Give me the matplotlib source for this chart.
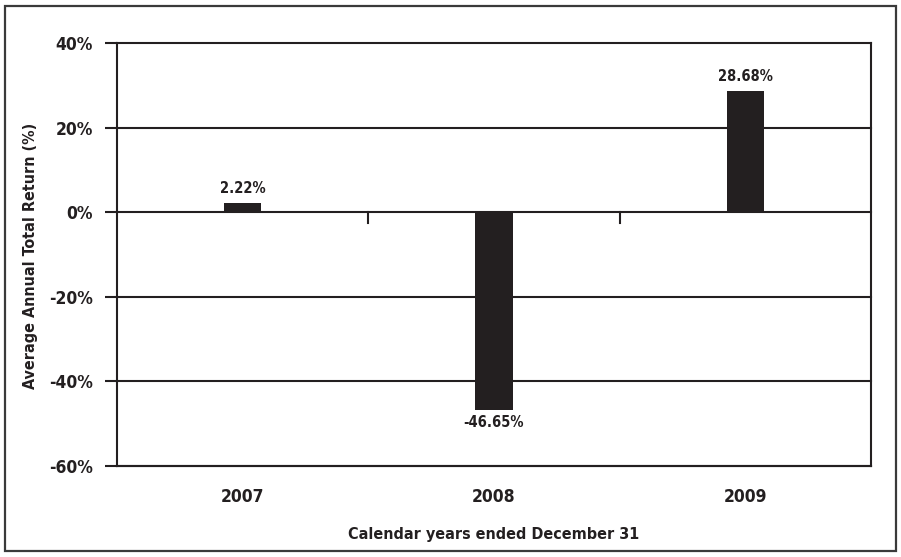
import matplotlib
matplotlib.use("Agg")
import matplotlib.pyplot as plt
from matplotlib.patches import Rectangle

years = ["2007", "2008", "2009"]
returns = [2.22, -46.65, 28.68]
value_labels = ["2.22%", "-46.65%", "28.68%"]
y_ticks = [40, 20, 0, -20, -40, -60]
y_tick_labels = ["40%", "20%", "0%", "-20%", "-40%", "-60%"]

ink = "#231f20"
plt.rcParams["font.family"] = ["DejaVu Sans"]
plt.rcParams["font.stretch"] = "condensed"
plt.rcParams["font.weight"] = "bold"

W, H = 901, 557
fig = plt.figure(figsize=(W / 100, H / 100), dpi=100)
fig.patch.set_facecolor("white")

# outer frame
fig.add_artist(Rectangle((5 / W, 6 / H), 891 / W, 545 / H, transform=fig.transFigure,
                         fill=False, edgecolor="#3a3a3a", linewidth=1.6))

left, right, top, bottom = 117, 871, 43, 466
ax = fig.add_axes([left / W, 1 - bottom / H, (right - left) / W, (bottom - top) / H])

x = list(range(len(years)))
ax.bar(x, returns, width=0.148, color=ink, zorder=3)

ax.set_xlim(-0.5, len(years) - 0.5)
ax.set_ylim(-60, 40)

# horizontal gridlines
for t in y_ticks:
    ax.axhline(t, color=ink, linewidth=1.5, zorder=2, clip_on=False)

ax.set_yticks(y_ticks)
ax.set_yticklabels(y_tick_labels, fontsize=12.5, fontweight="bold", color=ink,
                   fontstretch="condensed")
ax.tick_params(axis="y", length=9, width=1.5, color=ink, pad=8.5)

ax.set_xticks(x)
ax.set_xticklabels(years, fontsize=12.5, fontweight="bold", color=ink,
                   fontstretch="condensed")
ax.tick_params(axis="x", length=0, pad=16)

# category separators hanging off the zero line
for sep in [0.5, 1.5]:
    ax.plot([sep, sep], [0, -2.6], color=ink, linewidth=1.5, zorder=2)

for s in ["left", "right", "bottom"]:
    ax.spines[s].set_color(ink)
    ax.spines[s].set_linewidth(1.5)
ax.spines["top"].set_visible(False)

for xi, v, lab in zip(x, returns, value_labels):
    if v >= 0:
        ax.annotate(lab, (xi, v), xytext=(0, 5), textcoords="offset points",
                    ha="center", va="bottom", fontsize=10.5, fontweight="bold",
                    fontstretch="condensed", color=ink)
    else:
        ax.annotate(lab, (xi, v), xytext=(0, -4), textcoords="offset points",
                    ha="center", va="top", fontsize=10.5, fontweight="bold",
                    fontstretch="condensed", color=ink)

fig.text(31 / W, 1 - 256 / H, "Average Annual Total Return (%)", rotation=90,
         ha="center", va="center", fontsize=11.5, fontweight="bold",
         fontstretch="condensed", color=ink)
fig.text(((left + right) / 2) / W, 1 - 534 / H, "Calendar years ended December 31",
         ha="center", va="center", fontsize=11.5, fontweight="bold",
         fontstretch="condensed", color=ink)

fig.savefig("out.png", dpi=100, facecolor="white")
